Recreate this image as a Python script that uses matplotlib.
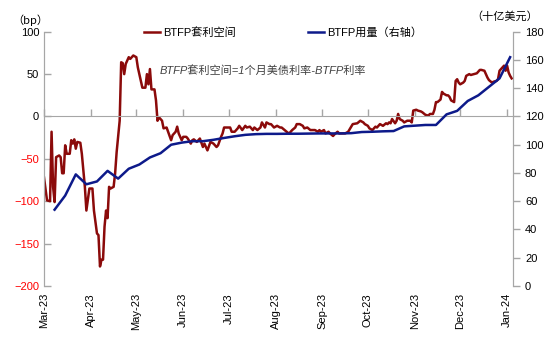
import numpy as np
import pandas as pd
import matplotlib
matplotlib.use('Agg')
import matplotlib.pyplot as plt
import matplotlib.dates as mdates

plt.rcParams['font.family'] = ['Liberation Sans', 'Noto Sans CJK SC', 'DejaVu Sans']
plt.rcParams['font.size'] = 8

# BTFP arbitrage spread (bp)
spread_dates = [
    '2023-03-01', '2023-03-03', '2023-03-05', '2023-03-06', '2023-03-07', '2023-03-08', '2023-03-09',
    '2023-03-11', '2023-03-12', '2023-03-13', '2023-03-14', '2023-03-15', '2023-03-16', '2023-03-18',
    '2023-03-19', '2023-03-20', '2023-03-21', '2023-03-22', '2023-03-23', '2023-03-25', '2023-03-26',
    '2023-03-28', '2023-03-29', '2023-03-31',
    '2023-04-02', '2023-04-03', '2023-04-05', '2023-04-06', '2023-04-07', '2023-04-08', '2023-04-09',
    '2023-04-10', '2023-04-11', '2023-04-12', '2023-04-13', '2023-04-14', '2023-04-16', '2023-04-17',
    '2023-04-18', '2023-04-19', '2023-04-20', '2023-04-21', '2023-04-22', '2023-04-23', '2023-04-24',
    '2023-04-25', '2023-04-26', '2023-04-27', '2023-04-29',
    '2023-05-01', '2023-05-02', '2023-05-04', '2023-05-05', '2023-05-07', '2023-05-08', '2023-05-09',
    '2023-05-10', '2023-05-11', '2023-05-13', '2023-05-14', '2023-05-15', '2023-05-16', '2023-05-18',
    '2023-05-19', '2023-05-21', '2023-05-22', '2023-05-24', '2023-05-25', '2023-05-27', '2023-05-28',
    '2023-05-29', '2023-05-31',
    '2023-06-01', '2023-06-03', '2023-06-04', '2023-06-06', '2023-06-07', '2023-06-08', '2023-06-10',
    '2023-06-12', '2023-06-14', '2023-06-15', '2023-06-17', '2023-06-19', '2023-06-21', '2023-06-23',
    '2023-06-24', '2023-06-26', '2023-06-27', '2023-06-28', '2023-06-30',
    '2023-07-02', '2023-07-03', '2023-07-05', '2023-07-07', '2023-07-08', '2023-07-10', '2023-07-12',
    '2023-07-13', '2023-07-15', '2023-07-17', '2023-07-18', '2023-07-20', '2023-07-22', '2023-07-23',
    '2023-07-25', '2023-07-26', '2023-07-28', '2023-07-29', '2023-07-31',
    '2023-08-02', '2023-08-04', '2023-08-05', '2023-08-07', '2023-08-09', '2023-08-10', '2023-08-12',
    '2023-08-14', '2023-08-15', '2023-08-17', '2023-08-19', '2023-08-20', '2023-08-22', '2023-08-24',
    '2023-08-25', '2023-08-27', '2023-08-29', '2023-08-30', '2023-08-31',
    '2023-09-02', '2023-09-03', '2023-09-05', '2023-09-06', '2023-09-08', '2023-09-09', '2023-09-11',
    '2023-09-12', '2023-09-14', '2023-09-16', '2023-09-18', '2023-09-20', '2023-09-21', '2023-09-24',
    '2023-09-26', '2023-09-28', '2023-09-29',
    '2023-10-01', '2023-10-02', '2023-10-04', '2023-10-06', '2023-10-07', '2023-10-09', '2023-10-11',
    '2023-10-13', '2023-10-14', '2023-10-15', '2023-10-16', '2023-10-17', '2023-10-19', '2023-10-20',
    '2023-10-21', '2023-10-22', '2023-10-24', '2023-10-25', '2023-10-27', '2023-10-29', '2023-10-30',
    '2023-10-31',
    '2023-11-02', '2023-11-03', '2023-11-05', '2023-11-06', '2023-11-08', '2023-11-10', '2023-11-11',
    '2023-11-13', '2023-11-14', '2023-11-15', '2023-11-16', '2023-11-18', '2023-11-19', '2023-11-20',
    '2023-11-22', '2023-11-23', '2023-11-24', '2023-11-25', '2023-11-27', '2023-11-28', '2023-11-29',
    '2023-11-30',
    '2023-12-01', '2023-12-03', '2023-12-04', '2023-12-05', '2023-12-07', '2023-12-08', '2023-12-10',
    '2023-12-12', '2023-12-13', '2023-12-14', '2023-12-15', '2023-12-17', '2023-12-18', '2023-12-19',
    '2023-12-20', '2023-12-22', '2023-12-23', '2023-12-25', '2023-12-26', '2023-12-27', '2023-12-29',
    '2023-12-30', '2023-12-31',
    '2024-01-01', '2024-01-02', '2024-01-03', '2024-01-04',
]
spread_bp = [
    -72, -99, -100, -18, -83, -101, -48,
    -46, -48, -67, -67, -34, -44, -44,
    -28, -32, -27, -38, -30, -31, -44,
    -83, -111, -85,
    -85, -111, -138, -140, -177, -169, -169,
    -130, -111, -120, -83, -85, -83, -67,
    -42, -24, -5, 64, 63, 50, 62,
    66, 70, 68, 72,
    70, 58, 42, 34, 34, 50, 38,
    56, 32, 32, 19, -5, -1, -5,
    -14, -13, -18, -28, -22, -18, -12,
    -20, -28,
    -24, -24, -26, -32, -28, -27, -30,
    -26, -36, -32, -40, -30, -32, -36,
    -34, -24, -20, -13, -13,
    -13, -18, -18, -14, -11, -16, -11,
    -13, -12, -16, -13, -16, -13, -7,
    -13, -7, -9, -9, -13,
    -11, -13, -13, -16, -19, -20, -16,
    -13, -9, -9, -11, -14, -13, -16,
    -16, -16, -18, -16, -18,
    -16, -20, -18, -20, -23, -21, -18,
    -20, -20, -20, -18, -12, -9, -8,
    -5, -7, -9,
    -11, -14, -16, -12, -13, -9, -11,
    -8, -9, -7, -8, -3, -8, -5,
    3, -3, -5, -7, -5, -5, -7,
    7,
    8, 7, 6, 5, 2, 1, 3,
    3, 8, 17, 17, 20, 29, 27,
    25, 25, 23, 19, 17, 42, 44,
    40,
    38, 40, 42, 48, 50, 49, 50,
    51, 53, 55, 55, 54, 50, 46,
    43, 40, 41, 42, 44, 54, 58,
    60, 54,
    60, 52, 48, 45,
]

# BTFP usage (billion USD), weekly
btfp_first_week = '2023-03-08'
btfp_bn = [54, 64, 79, 72, 74, 81.5, 76, 83, 86, 91, 94, 100, 101.5, 102.5,
           102.5, 103.5, 104.8, 106, 107, 107.5, 107.7, 107.7, 107.8, 107.8, 107.9, 108, 108, 108,
           108.2, 109, 109.2, 109.5, 109.7, 113, 113.5, 114, 114,
           121.5, 124, 131, 135, 141, 147, 162]

left_ticks = [-200, -150, -100, -50, 0, 50, 100]
right_ticks = list(range(0, 181, 20))
month_ticks = pd.date_range('2023-03-01', '2024-01-01', freq='MS')

red = '#8B0A0A'
blue = '#0D1A8A'
grey = '#A6A6A6'
cjk = ['Noto Sans CJK SC', 'DejaVu Sans']

spread_x = pd.to_datetime(spread_dates)
btfp_x = pd.date_range(btfp_first_week, periods=len(btfp_bn), freq='7D')

fig = plt.figure(figsize=(5.5, 3.38), dpi=100)
ax = fig.add_axes([0.08, 0.154, 0.853, 0.752])
ax2 = ax.twinx()

l1, = ax.plot(spread_x, spread_bp, color=red, lw=1.8)
l2, = ax2.plot(btfp_x, btfp_bn, color=blue, lw=1.8)

ax.set_xlim(pd.Timestamp('2023-03-01'), pd.Timestamp('2024-01-05'))
ax.set_ylim(-200, 100)
ax2.set_ylim(0, 180)
ax.set_yticks(left_ticks)
ax2.set_yticks(right_ticks)
for lab, v in zip(ax.get_yticklabels(), left_ticks):
    lab.set_color('red' if v < 0 else 'black')

# ax: bottom spine sits on the zero line, month ticks pointing up, no labels
ax.set_xticks(month_ticks)
ax.spines['bottom'].set_position(('data', 0))
ax.spines['bottom'].set_color(grey)
ax.tick_params(axis='x', direction='in', length=5, width=1, color=grey, labelbottom=False)
ax.tick_params(axis='y', direction='in', length=5, width=1, color=grey)

# ax2: carries the month labels along the bottom
ax2.xaxis.set_visible(True)
ax2.set_xticks(month_ticks)
ax2.xaxis.set_major_formatter(mdates.DateFormatter('%b-%y'))
ax2.tick_params(axis='x', length=0, rotation=90, pad=5, labelbottom=True, labeltop=False)
ax2.tick_params(axis='y', direction='out', length=5, width=1, color=grey)

for a in (ax, ax2):
    a.spines['top'].set_visible(False)
    a.spines['left'].set_color(grey)
    a.spines['right'].set_color(grey)
ax2.spines['bottom'].set_visible(False)

fig.text(0.055, 0.94, '（bp）', ha='center', va='center', family=cjk)
fig.text(0.918, 0.95, '（十亿美元）', ha='center', va='center', family=cjk)
fig.text(0.291, 0.79, 'BTFP套利空间=1个月美债利率-BTFP利率', style='italic',
         color='#404040', va='center')

fig.legend([l1, l2], ['BTFP套利空间', 'BTFP用量（右轴）'], loc='center',
           bbox_to_anchor=(0.515, 0.905), ncol=2, frameon=False,
           handlelength=1.4, handletextpad=0.3, columnspacing=6.5)

fig.savefig('out.png', dpi=100)
